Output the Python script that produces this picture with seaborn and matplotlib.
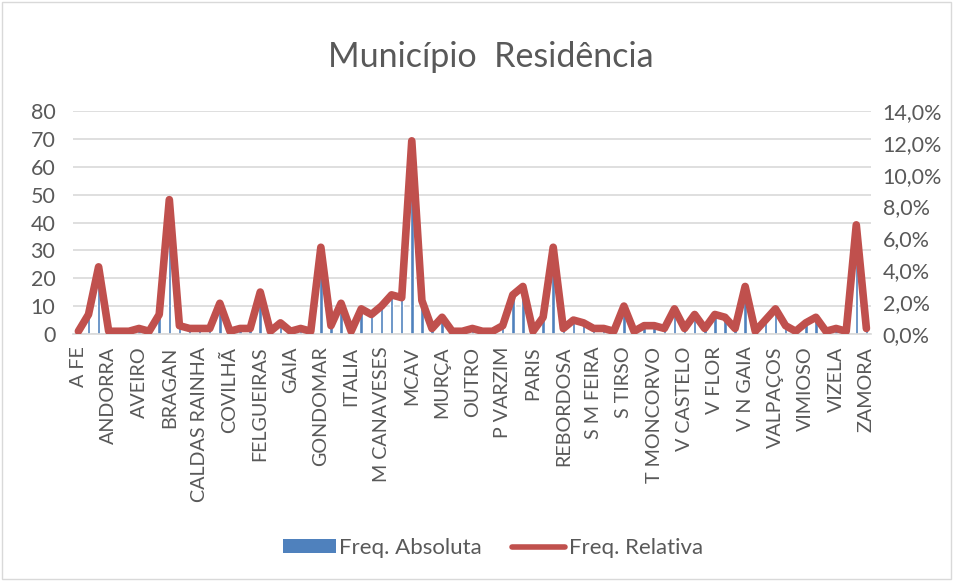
import matplotlib
matplotlib.use("Agg")
import matplotlib.pyplot as plt
import seaborn as sns
import numpy as np
import pandas as pd
from matplotlib.patches import Patch, Rectangle
from matplotlib.lines import Line2D
from matplotlib.ticker import FuncFormatter, MultipleLocator

# municipalities (only every third name is printed on the axis)
municipios = [
    "A FE", "ALFÂNDEGA", "AMARANTE", "ANDORRA", "ANGOLA", "AROUCA", "AVEIRO",
    "BAIÃO", "BRAGA", "BRAGAN", "BRASIL", "CABECEIRAS", "CALDAS RAINHA",
    "CHAVES", "CINFÃES", "COVILHÃ", "ESPANHA", "FAFE", "FELGUEIRAS", "FRANÇA",
    "FREIXO", "GAIA", "GOIS", "GOLEGÃ", "GONDOMAR", "GUARDA", "GUIMARÃES",
    "ITALIA", "LAMEGO", "LISBOA", "M CANAVESES", "MAIA", "MATOSINHOS", "MCAV",
    "MESÃO FRIO", "MIRANDELA", "MURÇA", "OLIVEIRA", "OURÉM", "OUTRO", "OVAR",
    "P LANHOSO", "P VARZIM", "PAÇOS FERREIRA", "PAREDES", "PARIS", "PENACOVA",
    "PENAFIEL", "REBORDOSA", "RESENDE", "S JOÃO MADEIRA", "S M FEIRA",
    "S PEDRO SUL", "S ROMÃO", "S TIRSO", "SETÚBAL", "SUÍÇA", "T MONCORVO",
    "TAROUCA", "TROFA", "V CASTELO", "V CONDE", "V FIGUEIRA", "V FLOR",
    "V N CERVEIRA", "V N FAMALICÃO", "V N GAIA", "V REAL", "VALONGO",
    "VALPAÇOS", "VIEIRA", "VILA VERDE", "VIMIOSO", "VINHAIS", "VISEU",
    "VIZELA", "VOUZELA", "VÁRZEA", "ZAMORA",
]

freq_absoluta = [
    1, 7, 24, 1, 1, 1, 2, 1, 7, 48,
    3, 2, 2, 2, 11, 1, 2, 2, 15, 1,
    4, 1, 2, 1, 31, 3, 11, 1, 9, 7,
    10, 14, 13, 69, 12, 2, 6, 1, 1, 2,
    1, 1, 3, 14, 17, 1, 6, 31, 2, 5,
    4, 2, 2, 1, 10, 1, 3, 3, 2, 9,
    2, 7, 2, 7, 6, 2, 17, 1, 5, 9,
    3, 1, 4, 6, 1, 2, 1, 39, 2,
]

freq_absoluta = np.array(freq_absoluta)
freq_relativa = freq_absoluta / freq_absoluta.sum()

df = pd.DataFrame({"municipio": municipios, "abs": freq_absoluta, "rel": freq_relativa})

BLUE = "#4F81BD"
RED = "#C0504D"
GREY = "#595959"
GRID = "#D9D9D9"

sns.set_style("white")
plt.rcParams["font.family"] = ["Lato", "DejaVu Sans"]

fig = plt.figure(figsize=(9.55, 5.81), dpi=100)
ax = fig.add_axes([0.0768, 0.425, 0.8357, 0.384])

sns.barplot(data=df, x="municipio", y="abs", color=BLUE, width=0.35,
            saturation=1, ax=ax, zorder=2)
ax.set_xlim(-0.5, len(municipios) - 0.5)
ax.set_ylim(0, 80)
ax.yaxis.set_major_locator(MultipleLocator(10))
ax.grid(axis="y", color=GRID, linewidth=1.2, zorder=0)
ax.set_axisbelow(True)
ax.set_xlabel("")
ax.set_ylabel("")
for s in ["top", "right", "left"]:
    ax.spines[s].set_visible(False)
ax.spines["bottom"].set_color(GRID)
ax.spines["bottom"].set_linewidth(1.2)

ticks = np.arange(0, len(municipios), 3)
ax.set_xticks(ticks)
ax.set_xticklabels([municipios[i] for i in ticks], rotation=90, fontsize=14.2, color=GREY)
ax.tick_params(axis="x", length=0, pad=9)
ax.tick_params(axis="y", length=0, labelsize=15.5, labelcolor=GREY, pad=13)

ax2 = ax.twinx()
sns.lineplot(x=np.arange(len(municipios)), y=df["rel"], color=RED, linewidth=5.5,
             ax=ax2, solid_joinstyle="round", solid_capstyle="round")
ax2.set_ylim(0, 0.14)
ax2.yaxis.set_major_locator(MultipleLocator(0.02))
ax2.yaxis.set_major_formatter(FuncFormatter(lambda v, p: f"{v * 100:.1f}%".replace(".", ",")))
ax2.tick_params(axis="y", length=0, labelsize=15.5, labelcolor=GREY, pad=8)
ax2.set_ylabel("")
for s in ax2.spines.values():
    s.set_visible(False)

fig.text(0.514, 1 - 57 / 581, "Município  Residência", ha="center", va="center",
         fontsize=24.5, color=GREY)

handles = [Patch(facecolor=BLUE, edgecolor="none"),
           Line2D([0], [0], color=RED, linewidth=4, solid_capstyle="round")]
fig.legend(handles, ["Freq. Absoluta", "Freq. Relativa"], loc="center",
           bbox_to_anchor=(0.516, 1 - 548 / 581), ncol=2, frameon=False,
           fontsize=16, labelcolor=GREY, handlelength=2.4, handleheight=0.6,
           handletextpad=0.15, columnspacing=1.35)

fig.patches.append(Rectangle((0.002, 0.004), 0.994, 0.992, transform=fig.transFigure,
                             fill=False, edgecolor=GRID, linewidth=1))

fig.savefig("out.png", dpi=100)
